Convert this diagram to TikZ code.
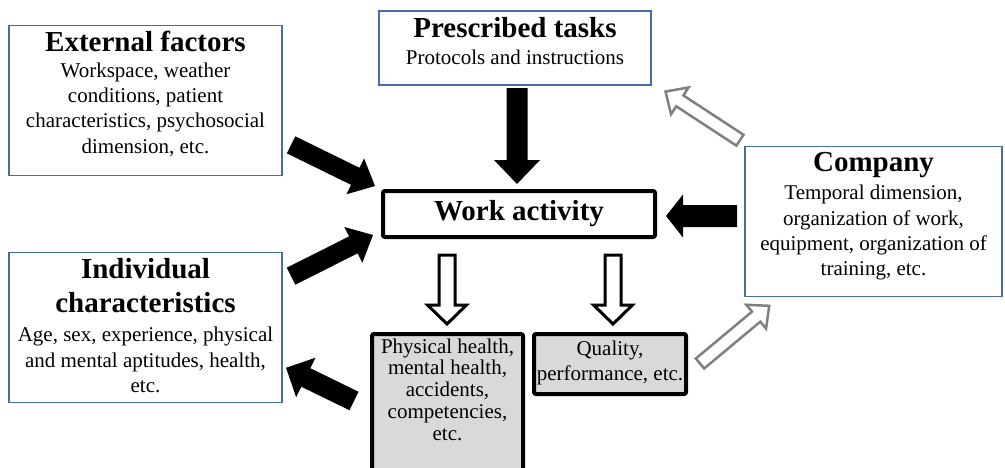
\documentclass[tikz,border=0pt]{standalone}
\usepackage{fontspec}
\setmainfont{Liberation Serif}
\usetikzlibrary{calc}
\definecolor{boxblue}{RGB}{70,110,160}
\definecolor{arrgray}{RGB}{128,128,128}
\definecolor{boxgray}{RGB}{217,217,217}
% block arrow: #1 style, #2 tail, #3 tip, #4 half shaft, #5 half head, #6 head length
\newcommand\blockarrow[6]{%
  \coordinate (bac) at ($(#3)!#6!(#2)$);
  \path[#1] ($(#2)!#4!90:(#3)$) -- ($(bac)!#4!90:(#3)$) -- ($(bac)!#5!90:(#3)$) -- (#3)
    -- ($(bac)!#5!-90:(#3)$) -- ($(bac)!#4!-90:(#3)$) -- ($(#2)!#4!-90:(#3)$) -- cycle;}
\newcommand\ttl[1]{{\fontsize{29}{29}\selectfont\bfseries #1}}
\begin{document}
\begin{tikzpicture}[x=1pt,y=-1pt,
  bluebox/.style={draw=boxblue, line width=1.6pt, fill=white, inner sep=0pt, align=center,
    font=\fontsize{21}{25.3}\selectfont},
  thickbox/.style={draw=black, line width=4pt, rounded corners=2pt, inner sep=0pt, align=center},
  solidarrow/.style={fill=black},
  hollowarrow/.style={draw=black, line width=3pt, fill=white},
  grayarrow/.style={draw=arrgray, line width=2.5pt, fill=white}]
\useasboundingbox (0,0) rectangle (1005,467);
\clip (0,0) rectangle (1005,467);

\node[bluebox, minimum width=272.5pt, minimum height=150pt] (ext) at (145.5,100.5)
  {\rule{0pt}{23pt}\ttl{External factors}\\Workspace, weather\\conditions, patient\\characteristics, psychosocial\\dimension, etc.\rule[-19pt]{0pt}{19pt}};

\node[bluebox, minimum width=272.5pt, minimum height=74.5pt] (pres) at (515,48)
  {\rule{0pt}{23pt}\ttl{Prescribed tasks}\\[1.7pt]Protocols and instructions\rule[-18pt]{0pt}{18pt}};

\node[bluebox, minimum width=257.5pt, minimum height=150pt] (comp) at (873.5,221.5)
  {\rule{0pt}{21pt}\ttl{Company}\\[3.5pt]Temporal dimension,\\organization of work,\\equipment, organization of\\training, etc.\rule[-17pt]{0pt}{17pt}};

\node[bluebox, minimum width=272.5pt, minimum height=150pt] (ind) at (145.5,327.5)
  {\rule{0pt}{23pt}\ttl{Individual}\\[8.7pt]\ttl{characteristics}\\[3.7pt]Age, sex, experience, physical\\and mental aptitudes, health,\\etc.\rule[-6.5pt]{0pt}{6.5pt}};

\node[thickbox, fill=white, minimum width=272pt, minimum height=46pt,
  font=\fontsize{29}{29}\selectfont\bfseries] (work) at (519,214) {Work activity};

\node[thickbox, fill=boxgray, minimum width=151pt, minimum height=142pt,
  font=\fontsize{21}{21.75}\selectfont] (phys) at (447.5,405)
  {\rule{0pt}{17pt}Physical health,\\mental health,\\accidents,\\competencies,\\etc.\rule[-34pt]{0pt}{34pt}};

\node[thickbox, fill=boxgray, minimum width=152pt, minimum height=60pt,
  font=\fontsize{21}{25}\selectfont] (qual) at (610,364)
  {\rule{0pt}{19pt}Quality,\\performance, etc.\rule[-12pt]{0pt}{12pt}};

% solid black arrows
\coordinate (presA) at ($(pres.south)+(2,2)$);
\coordinate (presB) at ($(work.north)+(-2,-5)$);
\blockarrow{solidarrow}{presA}{presB}{10.5pt}{23pt}{24pt}

\coordinate (extA) at ($(ext.south east)+(8.5,-31.5)$);
\coordinate (extB) at ($(work.north west)+(-6,-3)$);
\blockarrow{solidarrow}{extA}{extB}{9.5pt}{20pt}{22pt}

\coordinate (indA) at ($(ind.north east)+(8.5,24.5)$);
\coordinate (indB) at ($(work.south west)+(-8,-4)$);
\blockarrow{solidarrow}{indA}{indB}{9.5pt}{20pt}{22pt}

\coordinate (compA) at ($(comp.west)+(-6.75,-5.5)$);
\coordinate (compB) at ($(work.east)+(9,2)$);
\blockarrow{solidarrow}{compA}{compB}{11pt}{21.5pt}{17pt}

\coordinate (physA) at ($(phys.north west)+(-16,69)$);
\coordinate (physB) at ($(ind.south east)+(3.5,-35.5)$);
\blockarrow{solidarrow}{physA}{physB}{10.3pt}{22pt}{22pt}

% hollow black arrows
\coordinate (w1A) at ($(work.south)+(-72,16)$);
\coordinate (w1B) at ($(phys.north)+(-0.5,-8)$);
\blockarrow{hollowarrow}{w1A}{w1B}{8pt}{19.5pt}{19pt}

\coordinate (w2A) at ($(work.south)+(94,16)$);
\coordinate (w2B) at ($(qual.north)+(3,-8)$);
\blockarrow{hollowarrow}{w2A}{w2B}{8pt}{19.5pt}{19pt}

% gray hollow arrows
\coordinate (g1A) at ($(comp.north west)+(-4,-5.5)$);
\coordinate (g1B) at ($(pres.south east)+(13.5,5.5)$);
\blockarrow{grayarrow}{g1A}{g1B}{6.5pt}{16pt}{17pt}

\coordinate (g2A) at ($(qual.east)+(12,-0.5)$);
\coordinate (g2B) at ($(comp.south west)+(25.25,8.5)$);
\blockarrow{grayarrow}{g2A}{g2B}{6.5pt}{15.5pt}{17pt}
\end{tikzpicture}
\end{document}
